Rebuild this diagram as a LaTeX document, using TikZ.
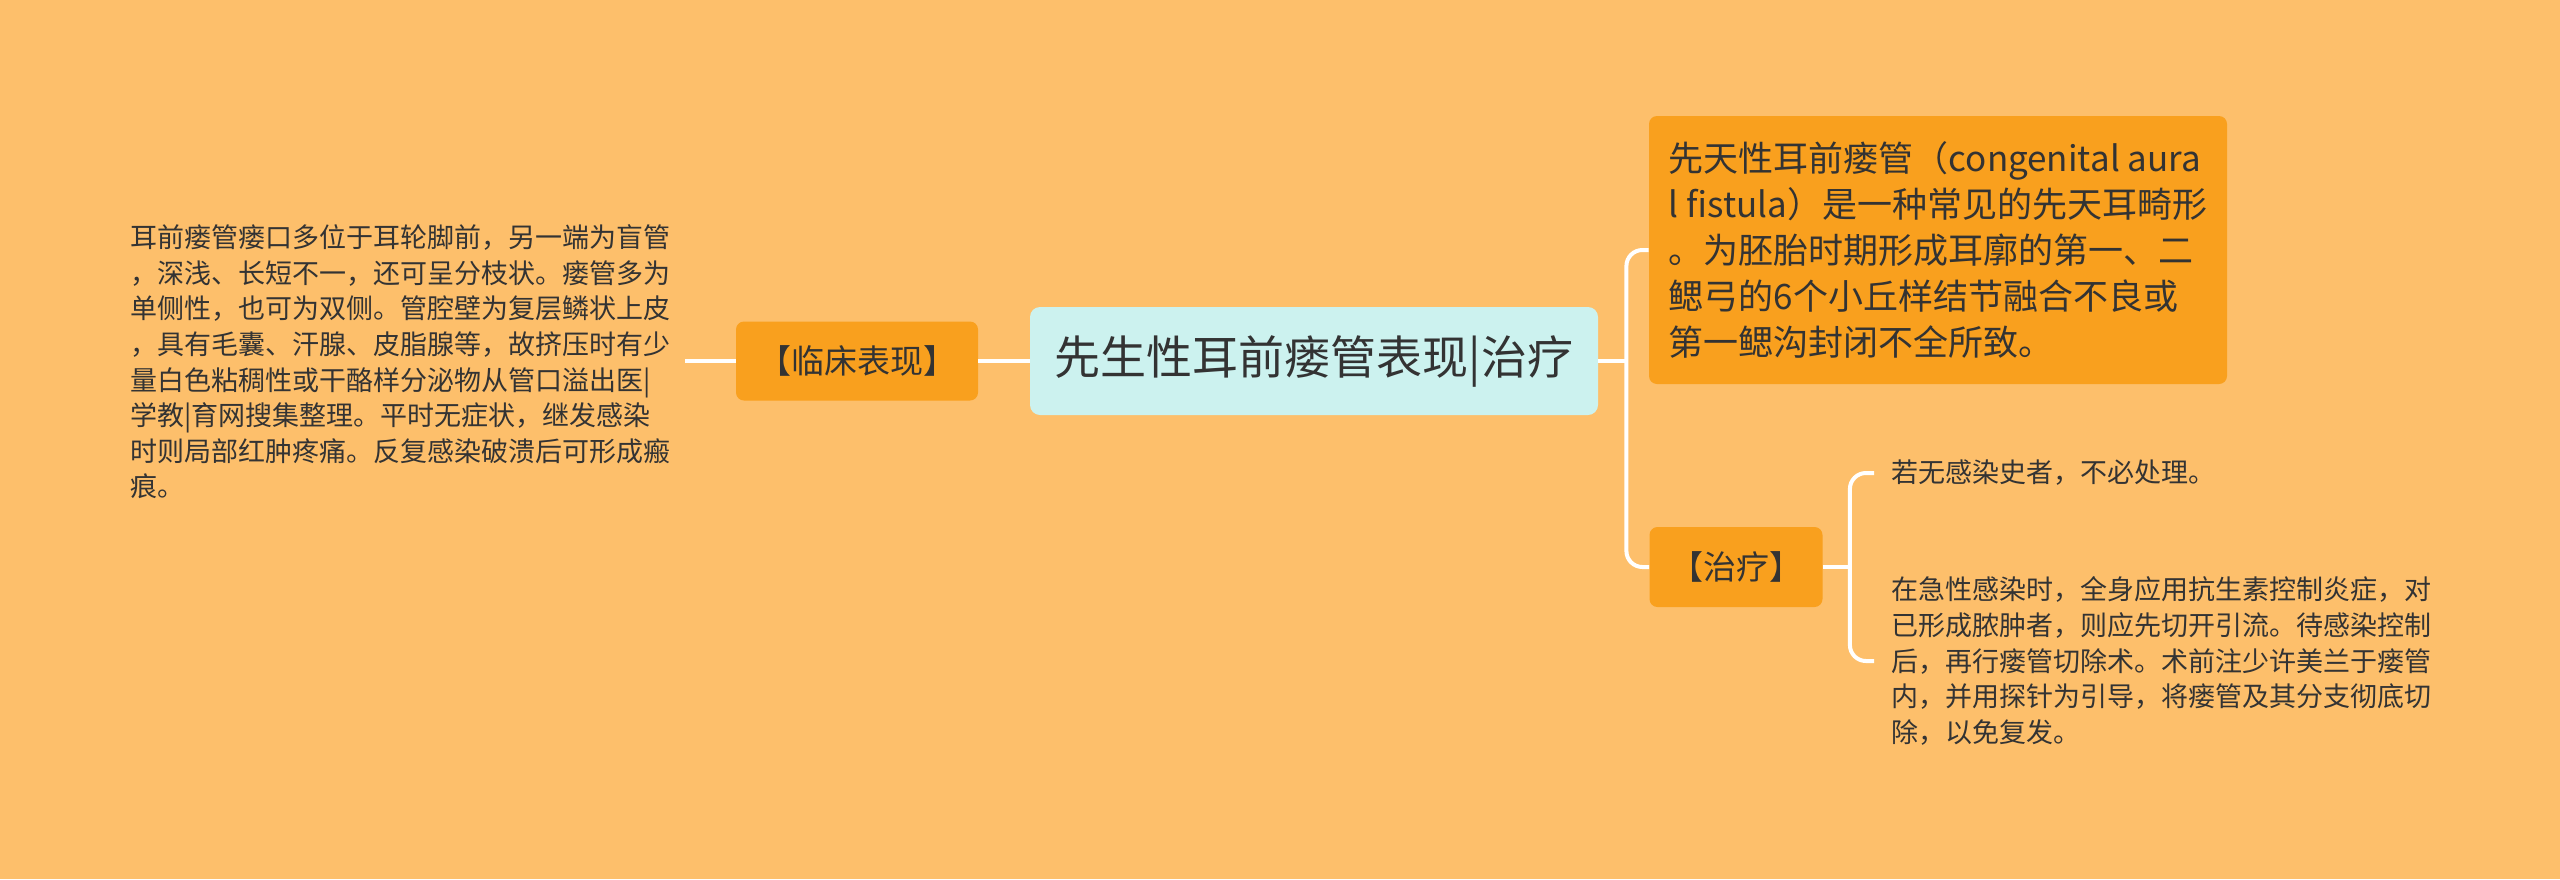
\documentclass[tikz,border=0pt]{standalone}
\usepackage{fontspec}
\setmainfont{Noto Sans CJK SC}
\usepackage{tikz}
\usetikzlibrary{positioning}
\definecolor{mBack}{HTML}{FDBF6B}
\definecolor{mOrange}{HTML}{F9A01E}
\definecolor{mCyan}{HTML}{CCF2EF}
\definecolor{mText}{HTML}{333333}
\tikzset{box/.style={rectangle, rounded corners=4pt, fill=mOrange, text=mText,
  inner sep=0pt, font=\fontsize{16.5}{20}\selectfont}}
\tikzset{rootbox/.style={rectangle, rounded corners=5pt, fill=mCyan, text=mText,
  inner sep=0pt, minimum width=284pt, minimum height=54pt,
  font=\fontsize{23}{28}\selectfont}}
\tikzset{txt/.style={align=left, text=mText, inner ysep=0pt,
  font=\fontsize{13.5}{17.8}\selectfont}}
\tikzset{link/.style={draw, white, line width=2pt}}

\begin{document}
\begin{tikzpicture}[x=0.5pt, y=-0.5pt]
  \fill[mBack] (0,0) rectangle (2560,879);
  \useasboundingbox (0,0) rectangle (2560,879);
  %%
  \node (root) at (1314,361) [rootbox] {先生性耳前瘘管表现|治疗};
  \node (lc) at (857,361) [box, minimum width=121pt, minimum height=39.5pt] {【临床表现】};
  \node (pre) at (1938,250) [box, minimum width=289pt, minimum height=134pt,
    align=left, font=\fontsize{17.5}{23}\selectfont] {%
    先天性耳前瘘管（congenital aura\\
    l fistula）是一种常见的先天耳畸形\\
    。为胚胎时期形成耳廓的第一、二\\
    鳃弓的6个小丘样结节融合不良或\\
    第一鳃沟封闭不全所致。};
  \node (zl) at (1736,567) [box, minimum width=86.5pt, minimum height=40pt] {【治疗】};
  %%
  \node (lt) at (685,362) [txt, anchor=east, inner xsep=7pt] {%
    耳前瘘管瘘口多位于耳轮脚前，另一端为盲管\\
    ，深浅、长短不一，还可呈分枝状。瘘管多为\\
    单侧性，也可为双侧。管腔壁为复层鳞状上皮\\
    ，具有毛囊、汗腺、皮脂腺等，故挤压时有少\\
    量白色粘稠性或干酪样分泌物从管口溢出医|\\
    学教|育网搜集整理。平时无症状，继发感染\\
    时则局部红肿疼痛。反复感染破溃后可形成瘢\\
    痕。};
  \node (t1) at (1874,473) [txt, anchor=west, inner xsep=8.5pt] {若无感染史者，不必处理。};
  \node (t2) at (1874,661) [txt, anchor=west, inner xsep=8.5pt] {%
    在急性感染时，全身应用抗生素控制炎症，对\\
    已形成脓肿者，则应先切开引流。待感染控制\\
    后，再行瘘管切除术。术前注少许美兰于瘘管\\
    内，并用探针为引导，将瘘管及其分支彻底切\\
    除，以免复发。};
  %%
  \path[link] (lc.west) to (lc.west -| lt.east);
  \path[link] (lc.east) to (root.west);
  \path[link] (root.east) -- ++(28,0) coordinate (rj);
  \path[link, rounded corners=8pt] (pre.west) -| (rj) |- (zl.west);
  \path[link] (zl.east) -- ++(27,0) coordinate (zj);
  \path[link, rounded corners=8pt] (t1.west) -| (zj) |- (t2.west);
\end{tikzpicture}
\end{document}
